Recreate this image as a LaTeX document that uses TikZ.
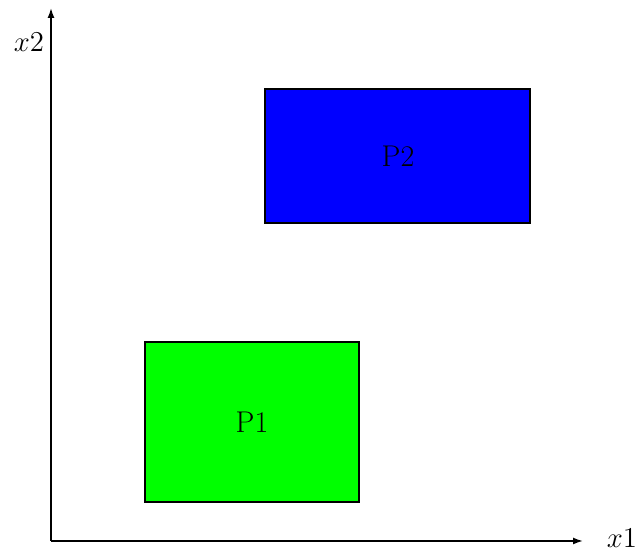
\documentclass[tikz,border=0pt]{standalone}
\usetikzlibrary{arrows.meta}
\begin{document}
\begin{tikzpicture}[x=0.5pt,y=0.5pt,
  axis/.style={thick,-{Latex[length=5pt,width=3.5pt]}},
  region/.style={draw=black,thick,minimum width=0pt},
  lbl/.style={font=\fontsize{15}{18}\selectfont,inner sep=0pt}]
\useasboundingbox (0,0) rectangle (639,550);
\coordinate (O) at (51,9);
\coordinate (xe) at (583,9);
\coordinate (ye) at (51,542);
\draw[axis] (O) -- (xe);
\draw[axis] (O) -- (ye);
\node[lbl] (x1) at (622,12) {$x1$};
\node[lbl] (x2) at (29,508) {$x2$};
\filldraw[region,fill={rgb,255:red,0;green,255;blue,0}] (145,48) rectangle (359,208);
\filldraw[region,fill={rgb,255:red,0;green,0;blue,255}] (265,327) rectangle (530,461);
\node[lbl] (p1) at (252,128) {P1};
\node[lbl] (p2) at (398,394) {P2};
\end{tikzpicture}
\end{document}
